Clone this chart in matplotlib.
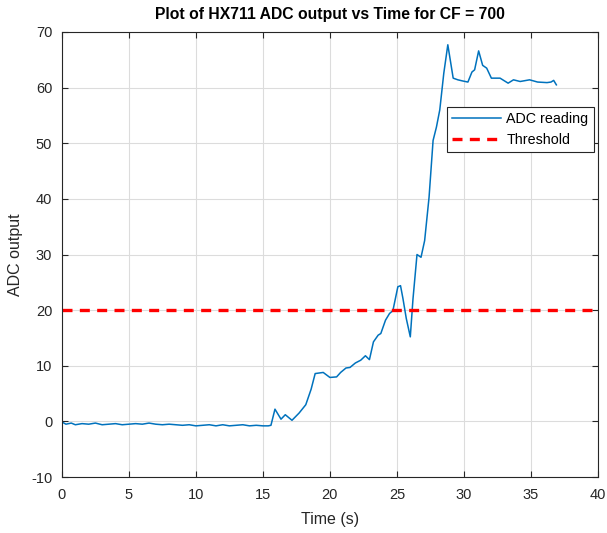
import matplotlib
matplotlib.use("Agg")
import matplotlib.pyplot as plt

# HX711 readings
time_s = [0.0, 0.3, 0.7, 1.0, 1.5, 2.0, 2.5, 3.0, 3.5, 4.0, 4.5, 5.0, 5.5, 6.0,
          6.5, 7.0, 7.5, 8.0, 8.5, 9.0, 9.5, 10.0, 10.5, 11.0, 11.5, 12.0, 12.5,
          13.0, 13.5, 14.0, 14.5, 15.0, 15.4, 15.6, 15.9, 16.35, 16.67, 17.17,
          17.7, 18.2, 18.6, 18.9, 19.5, 20.0, 20.5, 20.8, 21.2, 21.5, 21.9,
          22.3, 22.65, 22.95, 23.25, 23.6, 23.8, 24.15, 24.45, 24.7, 25.07,
          25.27, 25.45, 25.7, 26.0, 26.2, 26.5, 26.8, 27.07, 27.4, 27.7, 27.95,
          28.2, 28.5, 28.8, 29.2, 29.55, 29.9, 30.3, 30.6, 30.8, 31.1, 31.4,
          31.7, 32.05, 32.7, 33.3, 33.7, 34.2, 34.9, 35.5, 36.2, 36.5, 36.7, 36.9]
adc = [-0.1, -0.5, -0.3, -0.6, -0.4, -0.5, -0.3, -0.6, -0.5, -0.4, -0.6, -0.5,
       -0.4, -0.5, -0.3, -0.5, -0.6, -0.5, -0.6, -0.7, -0.6, -0.8, -0.7, -0.6,
       -0.8, -0.6, -0.8, -0.7, -0.6, -0.8, -0.7, -0.8, -0.8, -0.7, 2.2, 0.4,
       1.2, 0.2, 1.5, 3.0, 5.8, 8.6, 8.8, 7.9, 8.0, 8.8, 9.6, 9.7, 10.5, 11.0,
       11.8, 11.1, 14.3, 15.5, 15.8, 18.2, 19.4, 19.9, 24.2, 24.4, 22.1, 18.5,
       15.2, 22.0, 30.0, 29.5, 32.5, 40.3, 50.5, 52.9, 56.0, 62.6, 67.7, 61.7,
       61.4, 61.2, 61.0, 62.8, 63.2, 66.6, 64.0, 63.5, 61.7, 61.7, 60.8, 61.4,
       61.1, 61.4, 61.0, 60.9, 61.0, 61.3, 60.5]
threshold = 20
x_ticks = [0, 5, 10, 15, 20, 25, 30, 35, 40]
y_ticks = [-10, 0, 10, 20, 30, 40, 50, 60, 70]

plt.rcParams['font.family'] = ['Liberation Sans', 'DejaVu Sans']
plt.rcParams['axes.unicode_minus'] = False

fig = plt.figure(figsize=(6.07, 5.33), dpi=100)
ax = fig.add_axes([0.102, 0.105, 0.883, 0.835])

ax.plot(time_s, adc, color='#0072BD', lw=1.1, label='ADC reading')
ax.axhline(threshold, color='#FF0000', ls=(0, (3, 2.2)), lw=2.4, label='Threshold')

ax.set_xlim(0, 40)
ax.set_ylim(-10, 70)
ax.set_xticks(x_ticks)
ax.set_yticks(y_ticks)
ax.grid(True, color='#dcdcdc', lw=0.8)
ax.set_axisbelow(True)
ax.tick_params(direction='in', top=True, right=True, length=4,
               labelsize=10.5, colors='#262626')
ax.tick_params(axis='x', pad=8)
ax.tick_params(axis='y', pad=7)
for sp in ax.spines.values():
    sp.set_color('#262626')
    sp.set_linewidth(0.8)

ax.set_xlabel('Time (s)', fontsize=11.5, color='#262626', labelpad=7)
ax.set_ylabel('ADC output', fontsize=11.5, color='#262626', labelpad=6)
ax.set_title('Plot of HX711 ADC output vs Time for CF = 700',
             fontsize=11.3, fontweight='bold', pad=9)

leg = ax.legend(loc='upper right', bbox_to_anchor=(1.0, 0.84), fontsize=10.3,
                fancybox=False, framealpha=1, edgecolor='#262626',
                handlelength=3.4, handletextpad=0.4, borderpad=0.35,
                labelspacing=0.45, borderaxespad=0.3)
leg.get_frame().set_linewidth(0.8)

fig.savefig('out.png', dpi=100)
